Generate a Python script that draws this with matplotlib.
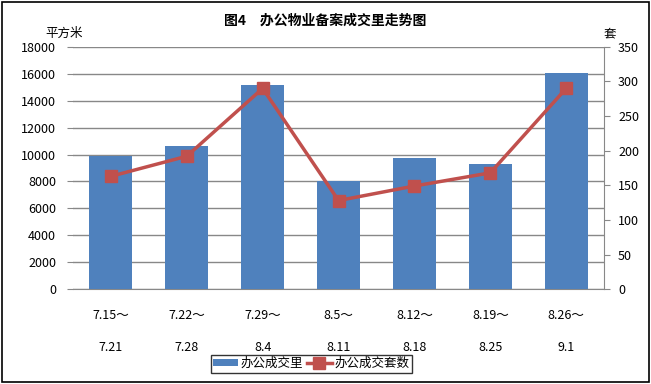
import matplotlib.pyplot as plt
import numpy as np
from matplotlib.patches import Rectangle

plt.rcParams['font.family'] = ['Noto Sans CJK SC', 'DejaVu Sans']

weeks = ['7.15～\n\n7.21', '7.22～\n\n7.28', '7.29～\n\n8.4', '8.5～\n\n8.11',
         '8.12～\n\n8.18', '8.19～\n\n8.25', '8.26～\n\n9.1']
area = [9900, 10640, 15180, 8040, 9750, 9300, 16070]
units = [163, 192, 290, 128, 149, 168, 290]

fig = plt.figure(figsize=(6.51, 3.84), dpi=100)
fig.patches.append(Rectangle((0.003, 0.005), 0.994, 0.99, transform=fig.transFigure,
                             fill=False, edgecolor='black', linewidth=1.2))
ax = fig.add_axes([0.112, 0.247, 0.816, 0.631])
ax2 = ax.twinx()

x = np.arange(len(weeks))
ax.bar(x, area, width=0.57, color='#4F81BD', zorder=3, label='办公成交里')
ax2.plot(x, units, color='#C0504D', linewidth=2.5, marker='s', markersize=8,
         zorder=4, label='办公成交套数')

ax.set_xlim(-0.5, len(weeks) - 0.5)
ax.set_ylim(0, 18000)
ax.set_yticks(np.arange(0, 18001, 2000))
ax2.set_ylim(0, 350)
ax2.set_yticks(np.arange(0, 351, 50))
ax.set_xticks(x)
ax.set_xticklabels(weeks, fontsize=9, linespacing=1.3)
ax.tick_params(axis='x', length=0, pad=14)
ax.tick_params(axis='y', labelsize=9, length=4, color='#888888', pad=8)
ax2.tick_params(axis='y', labelsize=9, length=4, color='#888888', pad=6)
ax.grid(axis='y', color='#888888', linewidth=1, zorder=0)
ax.set_axisbelow(True)

for a in (ax, ax2):
    for s in ('top', 'left'):
        a.spines[s].set_visible(False)
    a.spines['bottom'].set_color('#888888')
    a.spines['right'].set_color('#888888')
ax.spines['right'].set_visible(False)
ax2.spines['bottom'].set_visible(False)

fig.text(0.5, 0.945, '图4　办公物业备案成交里走势图', ha='center', va='center',
         fontsize=10, fontweight='bold')
fig.text(0.098, 0.912, '平方米', ha='center', va='center', fontsize=9)
fig.text(0.937, 0.912, '套', ha='center', va='center', fontsize=9)

h1, l1 = ax.get_legend_handles_labels()
h2, l2 = ax2.get_legend_handles_labels()
leg = fig.legend(h1 + h2, l1 + l2, loc='center', bbox_to_anchor=(0.478, 0.053),
                 ncol=2, fontsize=9, frameon=True, fancybox=False, edgecolor='black',
                 handlelength=2.0, handletextpad=0.2, columnspacing=0.3,
                 borderpad=0.2, handleheight=0.5)
leg.get_frame().set_linewidth(1)

plt.savefig('out.png', dpi=100)
